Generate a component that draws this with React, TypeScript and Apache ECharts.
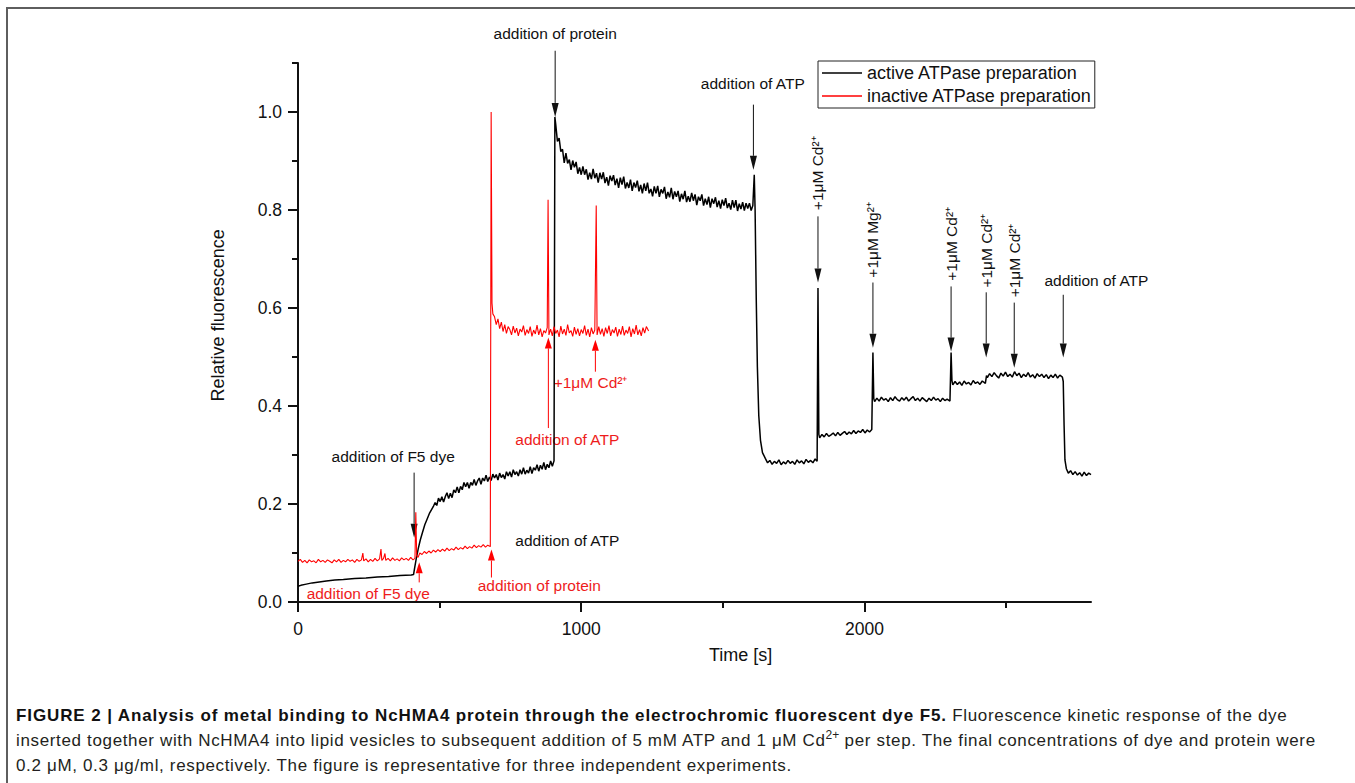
import React, { useEffect, useRef } from "react";
import * as echarts from "echarts";

const FONT = "'Liberation Sans', Arial, Helvetica, sans-serif";
const RED = "#ff0000";
const RED_TEXT = "#ee1c1c";
const BLACK = "#111111";

const seriesNames = ["active ATPase preparation", "inactive ATPase preparation"];

const xLabelValues = [0, 1000, 2000];
const xMinorValues = [500, 1500, 2500];
const yLabelValues = [0, 0.2, 0.4, 0.6, 0.8, 1.0];
const yMinorValues = [0.1, 0.3, 0.5, 0.7, 0.9, 1.1];

const activePoints: [number, number][] = [
  [0, 0.032], [10, 0.034], [25, 0.036], [50, 0.039], [75, 0.041], [100, 0.043], [130, 0.045], [160, 0.046],
  [200, 0.048], [240, 0.049], [280, 0.051], [320, 0.052], [360, 0.054], [400, 0.055], [408, 0.056],
  [412, 0.07], [418, 0.09], [425, 0.11], [432, 0.127], [440, 0.143], [448, 0.158], [455, 0.168], [465, 0.182],
  [478, 0.195], [484, 0.203], [490, 0.197], [496, 0.212], [502, 0.205], [508, 0.215], [514, 0.204], [520, 0.215],
  [526, 0.223], [532, 0.211], [538, 0.222], [544, 0.213], [550, 0.229], [556, 0.223], [562, 0.235], [568, 0.223],
  [574, 0.236], [580, 0.229], [586, 0.244], [592, 0.235], [598, 0.244], [604, 0.232], [610, 0.244], [616, 0.238],
  [622, 0.25], [628, 0.238], [634, 0.247], [640, 0.253], [646, 0.24], [652, 0.253], [658, 0.247], [664, 0.259],
  [670, 0.246], [676, 0.255], [682, 0.248], [688, 0.261], [694, 0.253], [700, 0.26], [706, 0.249], [712, 0.263],
  [718, 0.254], [724, 0.26], [730, 0.251], [736, 0.266], [742, 0.257], [748, 0.266], [754, 0.255], [760, 0.27],
  [766, 0.26], [772, 0.266], [778, 0.257], [784, 0.27], [790, 0.261], [796, 0.274], [802, 0.261], [808, 0.269],
  [814, 0.263], [820, 0.276], [826, 0.262], [832, 0.274], [838, 0.269], [844, 0.28], [850, 0.267], [856, 0.279],
  [862, 0.271], [868, 0.285], [874, 0.27], [880, 0.281], [886, 0.274], [892, 0.288], [898, 0.277], [904, 0.288],
  [907, 0.99], [910, 0.975], [916, 0.94], [922, 0.947], [928, 0.919], [934, 0.924], [940, 0.896], [946, 0.916],
  [952, 0.895], [958, 0.903], [964, 0.882], [970, 0.901], [976, 0.887], [982, 0.898], [988, 0.874], [994, 0.887],
  [1000, 0.872], [1006, 0.889], [1012, 0.872], [1018, 0.883], [1024, 0.862], [1030, 0.876], [1036, 0.863],
  [1042, 0.884], [1048, 0.865], [1054, 0.875], [1060, 0.856], [1066, 0.876], [1072, 0.863], [1078, 0.877],
  [1084, 0.855], [1090, 0.867], [1096, 0.85], [1102, 0.87], [1108, 0.859], [1114, 0.871], [1120, 0.851],
  [1126, 0.864], [1132, 0.845], [1138, 0.866], [1144, 0.852], [1150, 0.868], [1156, 0.844], [1162, 0.856],
  [1168, 0.845], [1174, 0.862], [1180, 0.839], [1186, 0.856], [1192, 0.846], [1198, 0.86], [1204, 0.838],
  [1210, 0.851], [1216, 0.834], [1222, 0.854], [1228, 0.839], [1234, 0.856], [1240, 0.834], [1246, 0.843],
  [1252, 0.828], [1258, 0.848], [1264, 0.834], [1270, 0.849], [1276, 0.827], [1282, 0.842], [1288, 0.834],
  [1294, 0.847], [1300, 0.823], [1306, 0.837], [1312, 0.826], [1318, 0.845], [1324, 0.822], [1330, 0.838],
  [1336, 0.827], [1342, 0.839], [1348, 0.817], [1354, 0.833], [1360, 0.822], [1366, 0.839], [1372, 0.816],
  [1378, 0.828], [1384, 0.817], [1390, 0.835], [1396, 0.819], [1402, 0.832], [1408, 0.81], [1414, 0.827],
  [1420, 0.819], [1426, 0.832], [1432, 0.809], [1438, 0.823], [1444, 0.811], [1450, 0.827], [1456, 0.805],
  [1462, 0.823], [1468, 0.813], [1474, 0.826], [1480, 0.806], [1486, 0.819], [1492, 0.803], [1498, 0.821],
  [1504, 0.809], [1510, 0.824], [1516, 0.804], [1522, 0.814], [1528, 0.801], [1534, 0.82], [1540, 0.805],
  [1546, 0.82], [1552, 0.798], [1558, 0.813], [1564, 0.802], [1570, 0.816], [1576, 0.799], [1582, 0.814],
  [1588, 0.803], [1594, 0.814], [1600, 0.799], [1606, 0.809],
  [1611, 0.872], [1614, 0.8], [1618, 0.62], [1622, 0.48], [1627, 0.38], [1633, 0.33], [1640, 0.305],
  [1650, 0.293], [1658, 0.284], [1666, 0.289], [1674, 0.281], [1682, 0.287], [1690, 0.283], [1698, 0.29],
  [1706, 0.28], [1714, 0.286], [1722, 0.282], [1730, 0.289], [1738, 0.283], [1746, 0.287], [1754, 0.281],
  [1762, 0.29], [1770, 0.284], [1778, 0.288], [1786, 0.282], [1794, 0.291], [1802, 0.285], [1810, 0.289],
  [1818, 0.284], [1826, 0.292], [1833, 0.287],
  [1836, 0.641], [1839, 0.342], [1842, 0.335], [1850, 0.342], [1858, 0.337], [1866, 0.344], [1874, 0.338],
  [1882, 0.341], [1890, 0.345], [1898, 0.339], [1906, 0.346], [1914, 0.34], [1922, 0.344], [1930, 0.348],
  [1938, 0.342], [1946, 0.347], [1954, 0.343], [1962, 0.35], [1970, 0.344], [1978, 0.349], [1986, 0.346],
  [1994, 0.352], [2002, 0.345], [2010, 0.351], [2018, 0.347], [2026, 0.352],
  [2030, 0.509], [2033, 0.415], [2036, 0.409], [2044, 0.416], [2052, 0.41], [2060, 0.418], [2068, 0.412],
  [2076, 0.415], [2084, 0.409], [2092, 0.417], [2100, 0.411], [2108, 0.419], [2116, 0.413], [2124, 0.41],
  [2132, 0.417], [2140, 0.412], [2148, 0.418], [2156, 0.41], [2164, 0.415], [2172, 0.419], [2180, 0.411],
  [2188, 0.416], [2196, 0.41], [2204, 0.417], [2212, 0.413], [2220, 0.409], [2228, 0.416], [2236, 0.411],
  [2244, 0.418], [2252, 0.412], [2260, 0.415], [2268, 0.409], [2276, 0.416], [2284, 0.411], [2292, 0.414],
  [2302, 0.41],
  [2306, 0.509], [2309, 0.452], [2312, 0.443], [2320, 0.45], [2328, 0.444], [2336, 0.449], [2344, 0.442],
  [2352, 0.451], [2360, 0.445], [2368, 0.448], [2376, 0.443], [2384, 0.452], [2392, 0.446], [2400, 0.449],
  [2408, 0.444], [2416, 0.451], [2427, 0.446],
  [2431, 0.462], [2434, 0.458], [2442, 0.466], [2450, 0.46], [2458, 0.468], [2466, 0.462], [2474, 0.457],
  [2482, 0.467], [2490, 0.461], [2498, 0.469], [2506, 0.46], [2514, 0.465], [2522, 0.459], [2530, 0.47],
  [2538, 0.462], [2546, 0.467], [2554, 0.458], [2562, 0.465], [2570, 0.46], [2578, 0.468], [2586, 0.459],
  [2594, 0.464], [2602, 0.457], [2610, 0.466], [2618, 0.46], [2626, 0.465], [2634, 0.458], [2642, 0.464],
  [2650, 0.456], [2658, 0.463], [2666, 0.458], [2674, 0.465], [2682, 0.457], [2690, 0.463], [2699, 0.459],
  [2702, 0.45], [2705, 0.36], [2708, 0.29], [2713, 0.272], [2720, 0.263], [2728, 0.268], [2736, 0.26],
  [2744, 0.266], [2752, 0.259], [2760, 0.264], [2768, 0.257], [2776, 0.265], [2784, 0.258], [2792, 0.263],
  [2800, 0.26],
];

const inactivePoints: [number, number][] = [
  [0, 0.083], [8, 0.087], [16, 0.081], [24, 0.085], [32, 0.08], [40, 0.086], [48, 0.082], [56, 0.084],
  [64, 0.08], [72, 0.087], [80, 0.082], [88, 0.085], [96, 0.081], [104, 0.086], [112, 0.083], [120, 0.08],
  [128, 0.086], [136, 0.082], [144, 0.087], [152, 0.081], [160, 0.085], [168, 0.082], [176, 0.087], [184, 0.083],
  [192, 0.086], [200, 0.081], [208, 0.087], [216, 0.083], [224, 0.086], [229, 0.1], [232, 0.084], [240, 0.088],
  [248, 0.082], [256, 0.087], [264, 0.083], [272, 0.089], [280, 0.084], [288, 0.088], [293, 0.108], [296, 0.085],
  [302, 0.089], [307, 0.099], [310, 0.085], [318, 0.089], [326, 0.084], [334, 0.09], [342, 0.085], [350, 0.088],
  [358, 0.084], [366, 0.09], [374, 0.086], [382, 0.089], [390, 0.085], [398, 0.091], [406, 0.086], [413, 0.089],
  [416, 0.183], [419, 0.094], [424, 0.091], [430, 0.1], [438, 0.097], [446, 0.103], [454, 0.099], [462, 0.104],
  [470, 0.1], [478, 0.106], [486, 0.102], [494, 0.107], [502, 0.103], [510, 0.108], [518, 0.104], [526, 0.11],
  [534, 0.105], [542, 0.109], [550, 0.106], [558, 0.112], [566, 0.107], [574, 0.111], [582, 0.108], [590, 0.114],
  [598, 0.109], [606, 0.113], [614, 0.11], [622, 0.116], [630, 0.111], [638, 0.115], [646, 0.112], [654, 0.117],
  [662, 0.112], [670, 0.116], [679, 0.113],
  [682, 1.0], [685, 0.61], [688, 0.588], [694, 0.582], [700, 0.566], [706, 0.578], [712, 0.558], [718, 0.571],
  [724, 0.552], [730, 0.566], [736, 0.548], [742, 0.562], [748, 0.556], [754, 0.545], [760, 0.563], [766, 0.549],
  [772, 0.559], [778, 0.543], [784, 0.557], [790, 0.551], [796, 0.564], [802, 0.544], [808, 0.556], [814, 0.548],
  [820, 0.562], [826, 0.542], [832, 0.555], [838, 0.547], [844, 0.565], [850, 0.545], [856, 0.558], [862, 0.541],
  [868, 0.554], [874, 0.549], [880, 0.56], [883, 0.821], [886, 0.545], [892, 0.557], [898, 0.543], [904, 0.562],
  [910, 0.548], [916, 0.555], [922, 0.541], [928, 0.563], [934, 0.547], [940, 0.557], [946, 0.544], [952, 0.566],
  [958, 0.549], [964, 0.554], [970, 0.542], [976, 0.561], [982, 0.546], [988, 0.558], [994, 0.543], [1000, 0.556],
  [1006, 0.548], [1012, 0.564], [1018, 0.544], [1024, 0.557], [1030, 0.541], [1036, 0.56], [1042, 0.547],
  [1048, 0.555], [1053, 0.809], [1056, 0.545], [1062, 0.562], [1068, 0.546], [1074, 0.558], [1080, 0.542],
  [1086, 0.56], [1092, 0.548], [1098, 0.564], [1104, 0.543], [1110, 0.556], [1116, 0.549], [1122, 0.561],
  [1128, 0.542], [1134, 0.557], [1140, 0.546], [1146, 0.563], [1152, 0.544], [1158, 0.555], [1164, 0.548],
  [1170, 0.562], [1176, 0.541], [1182, 0.558], [1188, 0.547], [1194, 0.565], [1200, 0.545], [1206, 0.556],
  [1212, 0.543], [1218, 0.56], [1224, 0.549], [1230, 0.562], [1238, 0.553],
];

// arrows: time, start value, tip value, colour
const arrows = [
  { t: 908, from: 1.125, to: 0.99, color: BLACK },
  { t: 1608, from: 1.015, to: 0.882, color: BLACK },
  { t: 1836, from: 0.787, to: 0.652, color: BLACK },
  { t: 2030, from: 0.652, to: 0.519, color: BLACK },
  { t: 2306, from: 0.644, to: 0.511, color: BLACK },
  { t: 2430, from: 0.632, to: 0.499, color: BLACK },
  { t: 2529, from: 0.611, to: 0.478, color: BLACK },
  { t: 2702, from: 0.627, to: 0.499, color: BLACK },
  { t: 410, from: 0.264, to: 0.131, color: BLACK },
  { t: 428, from: 0.04, to: 0.081, color: RED },
  { t: 683, from: 0.05, to: 0.107, color: RED },
  { t: 884, from: 0.355, to: 0.54, color: RED },
  { t: 1050, from: 0.47, to: 0.535, color: RED },
];

const notes = [
  { text: "addition of protein", t: 908, y: 1.16, color: BLACK, rotate: false },
  { text: "addition of ATP", t: 1606, y: 1.058, color: BLACK, rotate: false },
  { text: "+1μM Cd²⁺", t: 1836, y: 0.875, color: BLACK, rotate: true },
  { text: "+1μM Mg²⁺", t: 2030, y: 0.739, color: BLACK, rotate: true },
  { text: "+1μM Cd²⁺", t: 2306, y: 0.731, color: BLACK, rotate: true },
  { text: "+1μM Cd²⁺", t: 2430, y: 0.717, color: BLACK, rotate: true },
  { text: "+1μM Cd²⁺", t: 2529, y: 0.697, color: BLACK, rotate: true },
  { text: "addition of ATP", t: 2819, y: 0.656, color: BLACK, rotate: false },
  { text: "addition of F5 dye", t: 336, y: 0.297, color: BLACK, rotate: false },
  { text: "addition of ATP", t: 951, y: 0.125, color: BLACK, rotate: false },
  { text: "addition of F5 dye", t: 248, y: 0.017, color: RED_TEXT, rotate: false },
  { text: "addition of protein", t: 852, y: 0.033, color: RED_TEXT, rotate: false },
  { text: "addition of ATP", t: 951, y: 0.331, color: RED_TEXT, rotate: false },
  { text: "+1μM Cd²⁺", t: 1033, y: 0.448, color: RED_TEXT, rotate: false },
];

const axisTitleX = { text: "Time [s]", t: 1563 };
const axisTitleY = { text: "Relative fluorescence", y: 0.585 };

const captionBold = "FIGURE 2 | Analysis of metal binding to NcHMA4 protein through the electrochromic fluorescent dye F5.";
const captionLine1 = " Fluorescence kinetic response of the dye";
const captionLine2a = "inserted together with NcHMA4 into lipid vesicles to subsequent addition of 5 mM ATP and 1 μM Cd";
const captionLine2b = " per step. The final concentrations of dye and protein were";
const captionLine3 = "0.2 μM, 0.3 μg/ml, respectively. The figure is representative for three independent experiments.";

export default function App() {
  const ref = useRef<HTMLDivElement>(null);

  useEffect(() => {
    const chart = echarts.init(ref.current!, null, { renderer: "svg" });
    const axisLine = { show: true, lineStyle: { color: BLACK, width: 2 } };
    const option: any = {
      animation: false,
      grid: { left: 298, right: 264, top: 63, bottom: 98 },
      legend: {
        orient: "vertical",
        left: 818,
        top: 61,
        icon: "rect",
        itemWidth: 40,
        itemHeight: 1.5,
        itemGap: 5,
        padding: [3, 3, 3, 4],
        borderColor: "#222",
        borderWidth: 1,
        selectedMode: false,
        textStyle: { fontSize: 18, color: BLACK, fontFamily: FONT },
        data: seriesNames,
      },
      xAxis: [
        {
          type: "value", min: 0, max: 2800,
          axisLine,
          splitLine: { show: false },
          axisTick: { show: true, inside: false, length: 10, lineStyle: { color: BLACK, width: 2 }, customValues: xLabelValues },
          axisLabel: {
            fontSize: 17.5, color: BLACK, fontFamily: FONT, margin: 18, customValues: xLabelValues,
            formatter: (v: number) => String(v),
          },
        },
        {
          type: "value", min: 0, max: 2800, position: "bottom",
          axisLine: { show: false },
          splitLine: { show: false },
          axisTick: { show: true, inside: false, length: 6, lineStyle: { color: BLACK, width: 2 }, customValues: xMinorValues },
          axisLabel: { show: false },
        },
      ],
      yAxis: [
        {
          type: "value", min: 0, max: 1.1,
          axisLine,
          splitLine: { show: false },
          axisTick: { show: true, inside: false, length: 10, lineStyle: { color: BLACK, width: 2 }, customValues: yLabelValues },
          axisLabel: {
            fontSize: 17.5, color: BLACK, fontFamily: FONT, margin: 16, customValues: yLabelValues,
            formatter: (v: number) => v.toFixed(1),
          },
        },
        {
          type: "value", min: 0, max: 1.1, position: "left",
          axisLine: { show: false },
          splitLine: { show: false },
          axisTick: { show: true, inside: false, length: 6, lineStyle: { color: BLACK, width: 2 }, customValues: yMinorValues },
          axisLabel: { show: false },
        },
      ],
      series: [
        {
          name: seriesNames[0], type: "line", xAxisIndex: 0, yAxisIndex: 0,
          data: activePoints, showSymbol: false, symbol: "none",
          lineStyle: { color: "#000", width: 1.5 }, itemStyle: { color: "#000" },
        },
        {
          name: seriesNames[1], type: "line", xAxisIndex: 0, yAxisIndex: 0,
          data: inactivePoints, showSymbol: false, symbol: "none",
          lineStyle: { color: RED, width: 1.1 }, itemStyle: { color: RED },
        },
      ],
    };
    chart.setOption(option);

    const px = (t: number, y: number) => chart.convertToPixel({ seriesIndex: 0 }, [t, y]) as number[];
    const graphics: any[] = [];
    arrows.forEach((a) => {
      const p0 = px(a.t, a.from);
      const p1 = px(a.t, a.to);
      const down = p1[1] > p0[1];
      const h = a.color === RED ? 11 : 14;
      const hw = 3.5;
      const dir = down ? 1 : -1;
      const baseY = p1[1] - dir * h;
      graphics.push({
        type: "line", silent: true,
        shape: { x1: p0[0], y1: p0[1], x2: p0[0], y2: baseY },
        style: { stroke: a.color, lineWidth: 1 },
      });
      graphics.push({
        type: "polygon", silent: true,
        shape: { points: [[p1[0] - hw, baseY], [p1[0] + hw, baseY], [p1[0], p1[1]]] },
        style: { fill: a.color },
      });
    });
    notes.forEach((n) => {
      const p = px(n.t, n.y);
      graphics.push({
        type: "text", silent: true, x: p[0], y: p[1],
        rotation: n.rotate ? Math.PI / 2 : 0,
        style: {
          text: n.text, fill: n.color, fontSize: 15.5, fontFamily: FONT,
          align: "center", verticalAlign: "middle",
        },
      });
    });
    const o = px(0, 0);
    const yTitle = px(0, axisTitleY.y);
    graphics.push({
      type: "text", silent: true, x: o[0] - 80, y: yTitle[1], rotation: Math.PI / 2,
      style: { text: axisTitleY.text, fill: BLACK, fontSize: 18, fontFamily: FONT, align: "center", verticalAlign: "middle" },
    });
    const xTitle = px(axisTitleX.t, 0);
    graphics.push({
      type: "text", silent: true, x: xTitle[0], y: o[1] + 53,
      style: { text: axisTitleX.text, fill: BLACK, fontSize: 18, fontFamily: FONT, align: "center", verticalAlign: "middle" },
    });
    chart.setOption({ graphic: graphics });

    return () => chart.dispose();
  }, []);

  const captionStyle: React.CSSProperties = {
    position: "absolute", left: 16, top: 704, width: 1335,
    fontFamily: FONT, fontSize: 17, lineHeight: "24.5px", color: "#231f20", whiteSpace: "nowrap",
    letterSpacing: "0.65px",
  };
  const sup: React.CSSProperties = { fontSize: 12, position: "relative", top: -7, verticalAlign: "baseline", letterSpacing: 0 };

  return (
    <div style={{ position: "fixed", left: 0, top: 0, width: 1355, height: 783, overflow: "hidden", background: "#fff" }}>
      <div style={{ position: "absolute", left: 6, top: 7, width: 1400, height: 800, borderTop: "2px solid #5e5e5e", borderLeft: "2px solid #5e5e5e" }} />
      <div ref={ref} style={{ position: "absolute", left: 0, top: 0, width: 1355, height: 700 }} />
      <div style={captionStyle}>
        <div>
          <b style={{ color: "#111", letterSpacing: "0.89px" }}>{captionBold}</b>
          <span>{captionLine1}</span>
        </div>
        <div>{captionLine2a}<span style={sup}>2+</span>{captionLine2b}</div>
        <div>{captionLine3}</div>
      </div>
    </div>
  );
}
